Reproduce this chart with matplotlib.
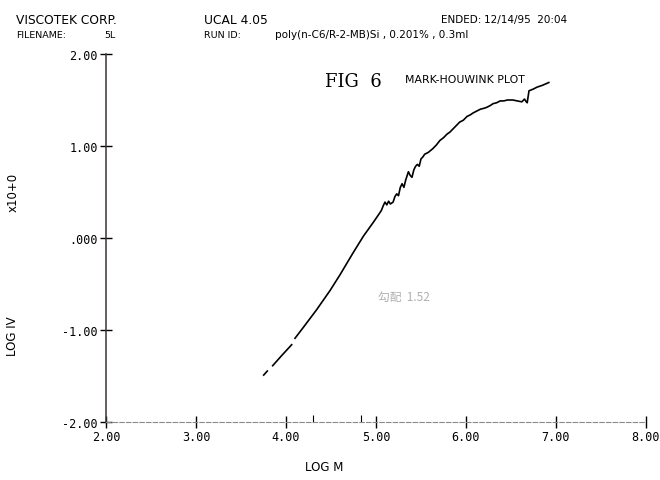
import numpy as np
import matplotlib
matplotlib.use("Agg")
import matplotlib.pyplot as plt

# log M / log IV trace from the viscometer run (NaN = pen lift)
log_m = [3.752, 3.792, np.nan,
         3.852, 3.95, 4.063, np.nan,
         4.10, 4.19, 4.34, 4.49, 4.60, 4.74, 4.86, 4.97, 5.04,
         5.06, 5.08, 5.10, 5.12, 5.14, 5.16, 5.19, 5.21, 5.23, 5.25,
         5.27, 5.29, 5.31, 5.33, 5.36, 5.38, 5.40, 5.42, 5.44, 5.46,
         5.48, 5.50, 5.52, 5.54, 5.58, 5.63, 5.67, 5.71, 5.75, 5.79,
         5.82, 5.86, 5.90, 5.93, 5.97, 6.01, 6.05, 6.08, 6.12, 6.16,
         6.20, 6.23, 6.27, 6.30, 6.34, 6.38, 6.42, 6.46, 6.50, 6.52,
         6.57, 6.62, 6.65, 6.67, 6.68, 6.70, 6.75, 6.79, 6.85, 6.92]
log_iv = [-1.49, -1.446, np.nan,
          -1.388, -1.28, -1.16, np.nan,
          -1.09, -0.975, -0.78, -0.57, -0.40, -0.17, 0.02, 0.17, 0.27,
          0.30, 0.35, 0.39, 0.36, 0.40, 0.37, 0.39, 0.45, 0.48, 0.46,
          0.55, 0.59, 0.55, 0.63, 0.72, 0.68, 0.66, 0.74, 0.78, 0.80,
          0.78, 0.86, 0.88, 0.91, 0.93, 0.97, 1.01, 1.06, 1.09, 1.13,
          1.15, 1.19, 1.23, 1.26, 1.28, 1.32, 1.34, 1.36, 1.38, 1.40,
          1.41, 1.42, 1.44, 1.46, 1.47, 1.49, 1.49, 1.50, 1.50, 1.50,
          1.49, 1.48, 1.51, 1.48, 1.47, 1.60, 1.62, 1.64, 1.66, 1.69]

x_ticks = [2, 3, 4, 5, 6, 7, 8]
x_labels = ["2.00", "3.00", "4.00", "5.00", "6.00", "7.00", "8.00"]
y_ticks = [-2, -1, 0, 1, 2]
y_labels = ["-2.00", "-1.00", ".000", "1.00", "2.00"]
limit_marks = [4.3, 4.83]
slope = 1.52

W, H = 660, 481
head_font = "DejaVu Sans"
mono = "DejaVu Sans Mono"

fig = plt.figure(figsize=(W / 100, H / 100), dpi=100)
ax = fig.add_axes([106 / W, 1 - 423 / H, 540 / W, 368 / H])

ax.plot(log_m, log_iv, color="black", lw=1.2)

ax.set_xlim(2, 8)
ax.set_ylim(-2, 2)
ax.set_xticks(x_ticks)
ax.set_xticklabels(x_labels, family=mono, fontsize=8.5)
ax.set_yticks(y_ticks)
ax.set_yticklabels(y_labels, family=mono, fontsize=8.5)
ax.set_xticks(limit_marks, minor=True)
ax.tick_params(axis="both", which="major", direction="inout", length=8,
               width=1, color="black", pad=2)
ax.tick_params(axis="x", which="minor", direction="in", length=5, width=0.8)

for s in ["top", "right"]:
    ax.spines[s].set_visible(False)
ax.spines["left"].set_color("#3a3330")
ax.spines["left"].set_linewidth(1.1)
ax.spines["bottom"].set_color("#8a8a8a")
ax.spines["bottom"].set_linewidth(0.8)
ax.spines["bottom"].set_linestyle((0, (4, 2)))


def px_text(x, y, s, **kw):
    fig.text(x / W, 1 - y / H, s, va="center", **kw)


# printout header
px_text(16, 20, "VISCOTEK CORP.", family=head_font, fontsize=8.8)
px_text(204, 20, "UCAL 4.05", family=head_font, fontsize=8.8)
px_text(441, 20, "ENDED:", family=head_font, fontsize=7.5)
px_text(484, 20, "12/14/95  20:04", family=head_font, fontsize=7.5)
px_text(16, 35, "FILENAME:", family=head_font, fontsize=6.8)
px_text(104, 35, "5L", family=head_font, fontsize=6.8)
px_text(204, 35, "RUN ID:", family=head_font, fontsize=6.8)
px_text(275, 35, "poly(n-C6/R-2-MB)Si , 0.201% , 0.3ml", family=head_font, fontsize=7.5)

px_text(325, 82, "FIG  6", family="DejaVu Serif", fontsize=13)
px_text(405, 80, "MARK-HOUWINK PLOT", family=head_font, fontsize=7.8)
px_text(378, 297, f"勾配  {slope:.2f}", family=["Noto Sans CJK JP", "DejaVu Sans"],
        fontsize=8.5, color="#b0b0b0")

px_text(324, 468, "LOG M", family=head_font, fontsize=8.5, ha="center")
px_text(12, 336, "LOG IV", family=head_font, fontsize=8.5, ha="center", rotation=90)
px_text(13, 192, "x10+0", family=head_font, fontsize=8.5, ha="center", rotation=90)

fig.savefig("out.png", dpi=100)
